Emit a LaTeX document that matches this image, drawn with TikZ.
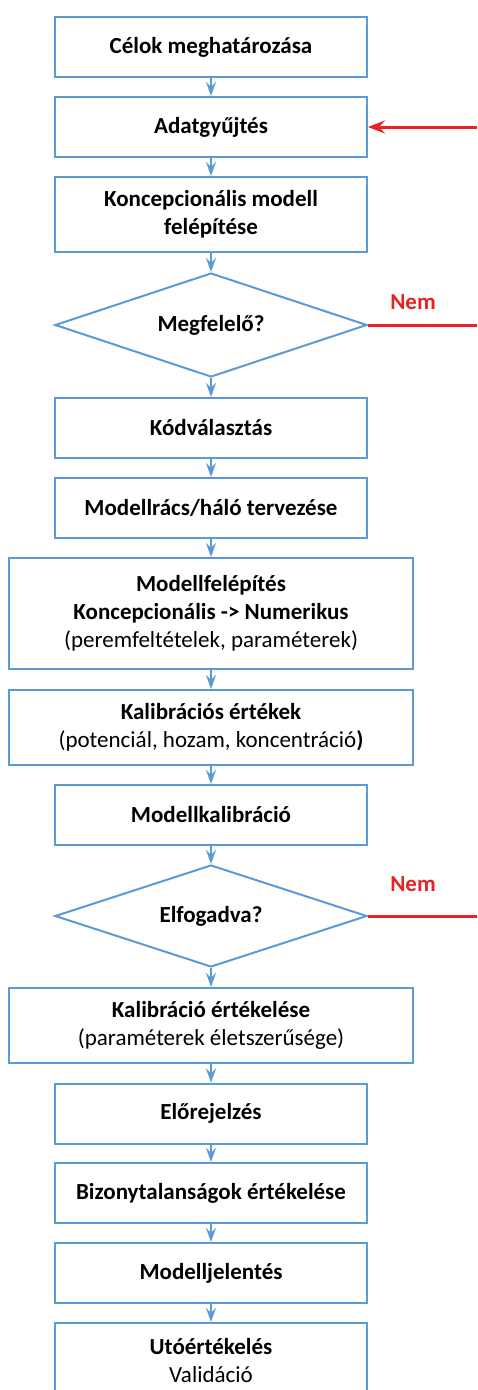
\documentclass[tikz,border=0pt]{standalone}
\usepackage{fontspec}
\setmainfont{Carlito}
\usetikzlibrary{arrows.meta,shapes.geometric}
\definecolor{flowblue}{RGB}{91,155,213}
\definecolor{flowred}{RGB}{232,34,38}

\begin{document}
\begin{tikzpicture}[x=1pt,y=-1pt,
  box/.style={draw=flowblue, line width=2pt, fill=white, align=center,
    minimum width=312pt, minimum height=60pt, inner sep=0pt,
    font=\fontsize{23}{28}\selectfont\bfseries},
  widebox/.style={box, minimum width=404pt},
  decision/.style={box, shape=diamond, aspect=3, minimum width=312pt, minimum height=104pt},
  flow/.style={draw=flowblue, line width=2pt,
    -{Stealth[length=14pt,width=10pt,inset=5pt]}},
  redarrow/.style={draw=flowred, line width=3pt,
    -{Stealth[length=17pt,width=13pt,inset=6pt]}},
  redline/.style={draw=flowred, line width=3pt},
  nolabel/.style={text=flowred, font=\fontsize{23}{28}\selectfont\bfseries}]

\useasboundingbox (0,0) rectangle (477,1390);
\fill[white] (0,0) rectangle (477,1390);
\clip (0,0) rectangle (477,1390);

% main column of steps
\node[box] (celok) at (211,47) {Célok meghatározása};
\node[box] (adat) at (211,127) {Adatgyűjtés};
\node[box, minimum height=75pt] (koncept) at (211,214.5) {Koncepcionális modell\\felépítése};
\node[decision] (megf) at (211,325) {Megfelelő?};
\node[box] (kod) at (211,428) {Kódválasztás};
\node[box] (racs) at (211,508) {Modellrács/háló tervezése};
\node[widebox, minimum height=111pt] (felep) at (211,613.5)
  {Modellfelépítés\\Koncepcionális -> Numerikus\\\mdseries(peremfeltételek, paraméterek)};
\node[widebox, minimum height=75pt] (kalert) at (211,727.5)
  {Kalibrációs értékek\\\mdseries(potenciál, hozam, koncentráció\bfseries)};
\node[box] (kalib) at (211,815) {Modellkalibráció};
\node[decision, minimum height=102pt] (elfog) at (211,916) {Elfogadva?};
\node[widebox, minimum height=75pt] (kalertek) at (211,1025.5)
  {Kalibráció értékelése\\\mdseries(paraméterek életszerűsége)};
\node[box] (elore) at (211,1113.5) {Előrejelzés};
\node[box] (bizony) at (211,1193) {Bizonytalanságok értékelése};
\node[box] (jelent) at (211,1273) {Modelljelentés};
\node[box, minimum height=75pt] (uto) at (211,1360.5) {Utóértékelés\\\mdseries Validáció};

% downward flow
\draw[flow] (celok.south) -- (adat.north);
\draw[flow] (adat.south) -- (koncept.north);
\draw[flow] (koncept.south) -- (megf.north);
\draw[flow] (megf.south) -- (kod.north);
\draw[flow] (kod.south) -- (racs.north);
\draw[flow] (racs.south) -- (felep.north);
\draw[flow] (felep.south) -- (kalert.north);
\draw[flow] (kalert.south) -- (kalib.north);
\draw[flow] (kalib.south) -- (elfog.north);
\draw[flow] (elfog.south) -- (kalertek.north);
\draw[flow] (kalertek.south) -- (elore.north);
\draw[flow] (elore.south) -- (bizony.north);
\draw[flow] (bizony.south) -- (jelent.north);
\draw[flow] (jelent.south) -- (uto.north);

% feedback branches
\coordinate (back) at (477,127);
\coordinate (nem1end) at (477,325);
\coordinate (nem2end) at (477,916);
\draw[redarrow] (back) -- (adat.east);
\draw[redline] (megf.east) -- (nem1end);
\draw[redline] (elfog.east) -- (nem2end);
\node[nolabel] (nem1) at (413,302) {Nem};
\node[nolabel] (nem2) at (413,884) {Nem};
\end{tikzpicture}
\end{document}
